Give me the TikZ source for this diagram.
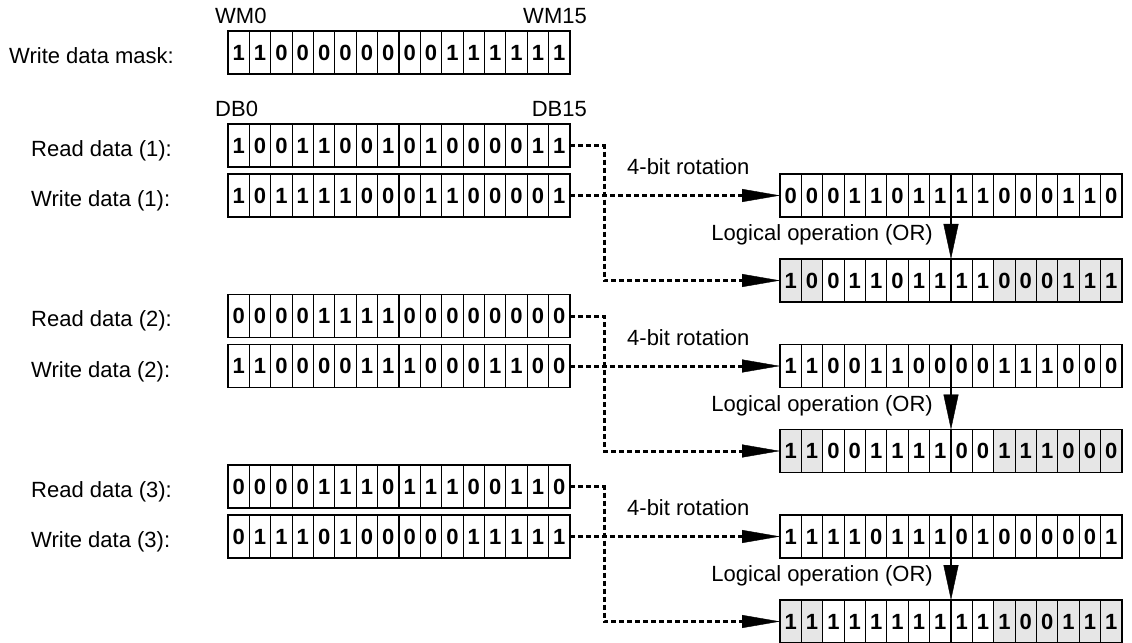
\documentclass[tikz,border=0pt]{standalone}
\usepackage{fontspec}
\setmainfont{Liberation Sans}
\usetikzlibrary{arrows.meta}

\definecolor{maskgray}{HTML}{E6E6E6}

\tikzset{
  cell/.style={draw, line width=1.2bp, minimum width=21.375bp, minimum height=43bp,
    inner sep=0pt, outer sep=0pt, text height=15.8bp, text depth=0pt,
    font=\fontsize{22bp}{26bp}\selectfont\bfseries},
  regbox/.style={minimum width=342bp, minimum height=43bp, inner sep=0pt, outer sep=0pt},
  lbl/.style={anchor=base west, inner sep=0pt, font=\fontsize{22bp}{26bp}\selectfont},
  dotline/.style={line width=3bp, dash pattern=on 5bp off 3bp},
  hairtip/.style={-{Triangle[length=38bp,width=13bp,line width=0.4bp]}},
  downtip/.style={line width=1.2bp, -{Triangle[length=35bp,width=15bp,line width=0.4bp]}},
}

% 16-bit register: name, left x, centre y, bits, shade masked bits (1/0)
\newcommand\bitreg[5]{%
  \node[regbox] (#1) at ({#2+171},{#3}) {};
  \foreach \bit [count=\i] in {#4} {%
    \def\cf{white}%
    \ifnum#5=1 \ifnum\i<3 \def\cf{maskgray}\fi\ifnum\i>10 \def\cf{maskgray}\fi\fi
    \node[cell, fill=\cf] (#1-\i) at ({#2+(\i-0.5)*21.375},{#3}) {\bit};
  }%
}

% one read/write/rotate/OR group: index, read row centre y, read, write, rotated, result
\newcommand\opset[6]{%
  \pgfmathsetmacro\ya{#2}%
  \pgfmathsetmacro\yb{#2+50}%
  \pgfmathsetmacro\yc{#2+135}%
  \node[lbl] (rdl#1) at (31,{\ya+11}) {Read data (#1):};
  \node[lbl] (wrl#1) at (31,{\yb+11}) {Write data (#1):};
  \bitreg{rd#1}{228}{\ya}{#3}{0}
  \bitreg{wr#1}{228}{\yb}{#4}{0}
  \bitreg{rot#1}{780}{\yb}{#5}{0}
  \bitreg{res#1}{780}{\yc}{#6}{1}
  \coordinate (turn#1) at (604,\yc);
  \node[lbl] (rotl#1) at (627,{\yb-21}) {4-bit rotation};
  \node[lbl, anchor=base east] (orl#1) at (933,{\yb+45}) {Logical operation (OR)};
  \draw[dotline, hairtip] (wr#1.east) -- (rot#1.west);
  \draw[dotline, hairtip] (rd#1.east) -| (turn#1) -- (res#1.west);
  \draw[downtip] (rot#1.south) -- (res#1.north);
}

\begin{document}
\begin{tikzpicture}[x=1bp, y=-1bp]
  \useasboundingbox (0,0) rectangle (1132,643);

  % write data mask
  \node[lbl] (wml) at (9,63.5) {Write data mask:};
  \node[lbl] (wm0) at (215,23.5) {WM0};
  \node[lbl, anchor=base east] (wm15) at (587,23.5) {WM15};
  \bitreg{mask}{228}{52.5}{1,1,0,0,0,0,0,0,0,0,1,1,1,1,1,1}{0}

  \node[lbl] (db0) at (215,116.5) {DB0};
  \node[lbl, anchor=base east] (db15) at (587,116.5) {DB15};

  \opset{1}{145.5}{1,0,0,1,1,0,0,1,0,1,0,0,0,0,1,1}{1,0,1,1,1,1,0,0,0,1,1,0,0,0,0,1}
    {0,0,0,1,1,0,1,1,1,1,0,0,0,1,1,0}{1,0,0,1,1,0,1,1,1,1,0,0,0,1,1,1}
  \opset{2}{316}{0,0,0,0,1,1,1,1,0,0,0,0,0,0,0,0}{1,1,0,0,0,0,1,1,1,0,0,0,1,1,0,0}
    {1,1,0,0,1,1,0,0,0,0,1,1,1,0,0,0}{1,1,0,0,1,1,1,1,0,0,1,1,1,0,0,0}
  \opset{3}{486.5}{0,0,0,0,1,1,1,0,1,1,1,0,0,1,1,0}{0,1,1,1,0,1,0,0,0,0,0,1,1,1,1,1}
    {1,1,1,1,0,1,1,1,0,1,0,0,0,0,0,1}{1,1,1,1,1,1,1,1,1,1,1,0,0,1,1,1}
\end{tikzpicture}
\end{document}
